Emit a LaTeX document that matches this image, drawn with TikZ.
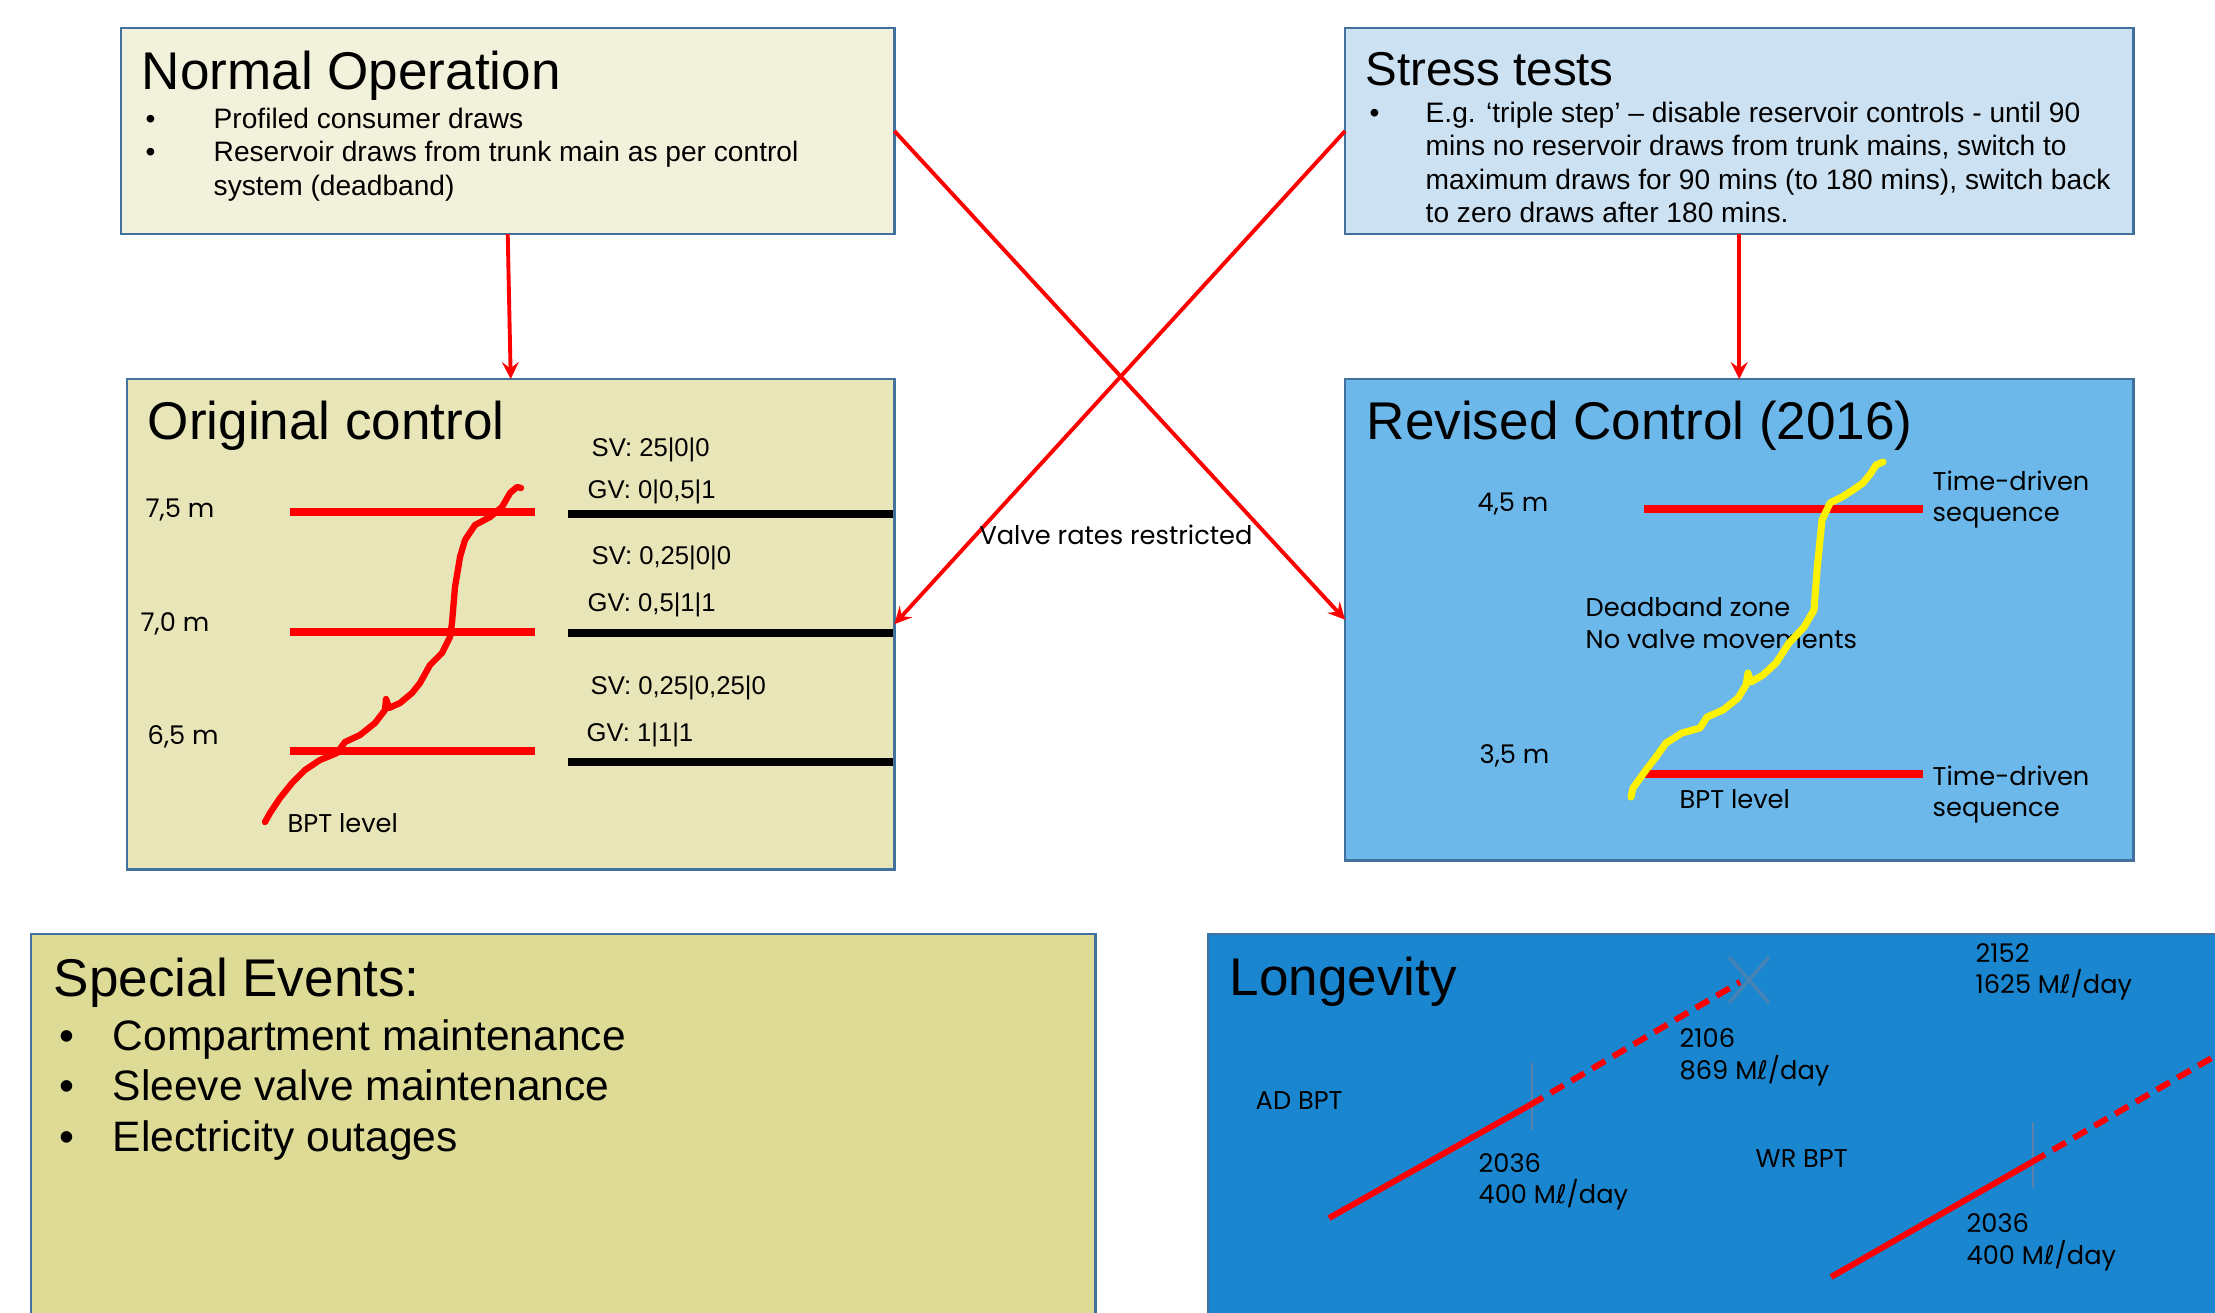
\documentclass[tikz,border=0pt]{standalone}
\usepackage{fontspec}
\setmainfont{Liberation Sans}
\newfontfamily\gothic{Poppins}
\newfontfamily\symf{DejaVu Sans}
\usepackage{tikz}
\usetikzlibrary{calc}
\usetikzlibrary{arrows,shapes,positioning}
\tikzset{>=stealth}

\definecolor{edge}{RGB}{65,113,156}
\definecolor{normfill}{RGB}{242,242,220}
\definecolor{stressfill}{RGB}{204,225,242}
\definecolor{origfill}{RGB}{232,230,185}
\definecolor{revfill}{RGB}{108,184,234}
\definecolor{specfill}{RGB}{222,219,150}
\definecolor{longfill}{RGB}{26,134,208}
\definecolor{tickgray}{RGB}{90,130,170}

\tikzset{
  panel/.style={draw=edge, line width=0.7pt, inner sep=0pt, outer sep=0pt, anchor=north west},
  head/.style={anchor=base west, inner sep=0pt, font=\fontsize{15.1}{18}\selectfont},
  body/.style={anchor=base west, inner sep=0pt, font=\fontsize{8}{9.6}\selectfont},
  big/.style={anchor=base west, inner sep=0pt, font=\fontsize{12.1}{14.5}\selectfont},
  note/.style={anchor=base west, inner sep=0pt, font=\gothic\fontsize{7.3}{8.8}\selectfont},
  valve/.style={anchor=base west, inner sep=0pt, font=\fontsize{7.3}{8.8}\selectfont},
  redlevel/.style={red, line width=2.2pt},
  blacklevel/.style={black, line width=2.2pt},
  growth/.style={red, line width=1.7pt},
  link/.style={->, red, line width=1.1pt},
}

\begin{document}
\begin{tikzpicture}[x=0.01cm,y=-0.01cm]
\useasboundingbox (0,0) rectangle (2215,1312);
\clip (0,0) rectangle (2215,1312);

% panels
\node[panel, fill=normfill, minimum width=7.73cm, minimum height=2.06cm] (normal) at (121,28) {};
\node[panel, fill=stressfill, minimum width=7.88cm, minimum height=2.06cm] (stress) at (1345,28) {};
\node[panel, fill=origfill, minimum width=7.67cm, minimum height=4.9cm] (orig) at (127,379) {};
\node[panel, fill=revfill, minimum width=7.88cm, minimum height=4.81cm] (revised) at (1345,379) {};
\node[panel, fill=specfill, minimum width=10.64cm, minimum height=4.2cm] (special) at (31,934) {};
\node[panel, fill=longfill, minimum width=11cm, minimum height=4.2cm] (longev) at (1208,934) {};

% Normal Operation
\node[head] (normtitle) at (141,90) {Normal Operation};
\node[body] (nb1) at (145,128) {\textbullet};
\node[body] (n1) at (213,128) {Profiled consumer draws};
\node[body] (nb2) at (145,161.5) {\textbullet};
\node[body] (n2) at (213,161.5) {Reservoir draws from trunk main as per control};
\node[body] (n3) at (213,195) {system (deadband)};

% Stress tests
\node[head, font=\fontsize{13.5}{16}\selectfont] (stresstitle) at (1365,85) {Stress tests};
\node[body] (stb1) at (1369,122) {\textbullet};
\node[body] (s1) at (1425,122) {E.g. ‘triple step’ – disable reservoir controls - until 90};
\node[body] (s2) at (1425,155.5) {mins no reservoir draws from trunk mains, switch to};
\node[body] (s3) at (1425,189) {maximum draws for 90 mins (to 180 mins), switch back};
\node[body] (s4) at (1425,222.5) {to zero draws after 180 mins.};

% arrows
\draw[link] (normal.south) -- (orig.north);
\draw[link] (stress.south) -- (revised.north);
\draw[link] (normal.east) -- (revised.west);
\draw[link] (stress.west) -- (orig.east);
\node[note, anchor=center] (valve) at (1116,535) {Valve rates restricted};

% Original control
\node[head] (origtitle) at (147,439) {Original control};
\node[note] (o75) at (145,517) {7,5 m};
\node[note] (o70) at (140,631) {7,0 m};
\node[note] (o65) at (147,744) {6,5 m};
\draw[redlevel] (290,512) -- (535,512);
\draw[redlevel] (290,632) -- (535,632);
\draw[redlevel] (290,751) -- (535,751);
\draw[blacklevel] (568,514) -- (893,514);
\draw[blacklevel] (568,633) -- (893,633);
\draw[blacklevel] (568,762) -- (893,762);
\node[valve] (sv1) at (591,456) {SV: 25|0|0};
\node[valve] (gv1) at (587,498) {GV: 0|0,5|1};
\node[valve] (sv2) at (591,564) {SV: 0,25|0|0};
\node[valve] (gv2) at (587,611) {GV: 0,5|1|1};
\node[valve] (sv3) at (590,694) {SV: 0,25|0,25|0};
\node[valve] (gv3) at (586,741) {GV: 1|1|1};
\node[note] (obpt) at (287,832) {BPT level};
\draw[red, line width=1.8pt, line join=round, line cap=round] (265,822) -- (270,813) -- (280,798) -- (292,783) -- (305,770) -- (320,760) -- (337,753) -- (345,742) -- (360,735) -- (375,723) -- (385,710) -- (386,699) -- (389,708) -- (400,703) -- (412,693) -- (420,683) -- (430,665) -- (442,653) -- (450,637) -- (452,623) -- (455,587) -- (460,557) -- (465,540) -- (475,525) -- (490,517) -- (502,507) -- (510,493) -- (517,487) -- (521,488);

% Revised Control
\node[head] (revtitle) at (1366,439) {Revised Control (2016)};
\node[note] (r45) at (1477,511) {4,5 m};
\node[note] (r35) at (1479,763) {3,5 m};
\draw[redlevel] (1644,509) -- (1923,509);
\draw[redlevel] (1644,774) -- (1923,774);
\node[note] (td1) at (1932,490) {Time-driven};
\node[note] (sq1) at (1932,521) {sequence};
\node[note] (td2) at (1932,785) {Time-driven};
\node[note] (sq2) at (1932,816) {sequence};
\node[note] (dz) at (1585,616) {Deadband zone};
\node[note] (nv) at (1585,648) {No valve movements};
\node[note] (rbpt) at (1679,808) {BPT level};
\draw[yellow, line width=2pt, line join=round, line cap=round] (1631,797) -- (1633,788) -- (1646,770) -- (1656,757) -- (1666,743) -- (1682,733) -- (1700,728) -- (1707,717) -- (1723,710) -- (1738,698) -- (1746,685) -- (1748,673) -- (1751,682) -- (1763,675) -- (1776,663) -- (1789,643) -- (1804,627) -- (1814,610) -- (1817,570) -- (1822,520) -- (1830,503) -- (1842,497) -- (1853,490) -- (1863,483) -- (1871,473) -- (1876,465) -- (1883,462);

% Special Events
\node[head] (spectitle) at (53,996) {Special Events:};
\node[big] (eb1) at (59,1050) {\textbullet};
\node[big] (e1) at (112,1050) {Compartment maintenance};
\node[big] (eb2) at (59,1100) {\textbullet};
\node[big] (e2) at (112,1100) {Sleeve valve maintenance};
\node[big] (eb3) at (59,1151) {\textbullet};
\node[big] (e3) at (112,1151) {Electricity outages};

% Longevity
\node[head] (longtitle) at (1229,995) {Longevity};
\node[note] (adbpt) at (1255,1109) {AD BPT};
\node[note] (ad36) at (1478,1172) {2036};
\node[note] (ad400) at (1478,1203) {400 M{\symf ℓ}/day};
\node[note] (ad06) at (1679,1047) {2106};
\node[note] (ad869) at (1679,1079) {869 M{\symf ℓ}/day};
\node[note] (wrbpt) at (1755,1167) {WR BPT};
\node[note] (wr52) at (1975,962) {2152};
\node[note] (wr1625) at (1975,993) {1625 M{\symf ℓ}/day};
\node[note] (wr36) at (1966,1232) {2036};
\node[note] (wr400) at (1966,1264) {400 M{\symf ℓ}/day};
\draw[tickgray, line width=0.6pt] (1532,1063) -- (1532,1130);
\draw[tickgray, line width=0.6pt] (2033,1122) -- (2033,1188);
\draw[growth] (1329,1218) -- (1530,1105);
\draw[growth, dash pattern=on 0.15cm off 0.09cm] (1530,1105) -- (1740,982);
\draw[tickgray, line width=1pt, opacity=0.7] (1729,957) -- (1769,1003) (1769,957) -- (1729,1003);
\draw[growth] (1831,1277) -- (2032,1162);
\draw[growth, dash pattern=on 0.15cm off 0.09cm] (2032,1162) -- (2260,1030);
\end{tikzpicture}
\end{document}
